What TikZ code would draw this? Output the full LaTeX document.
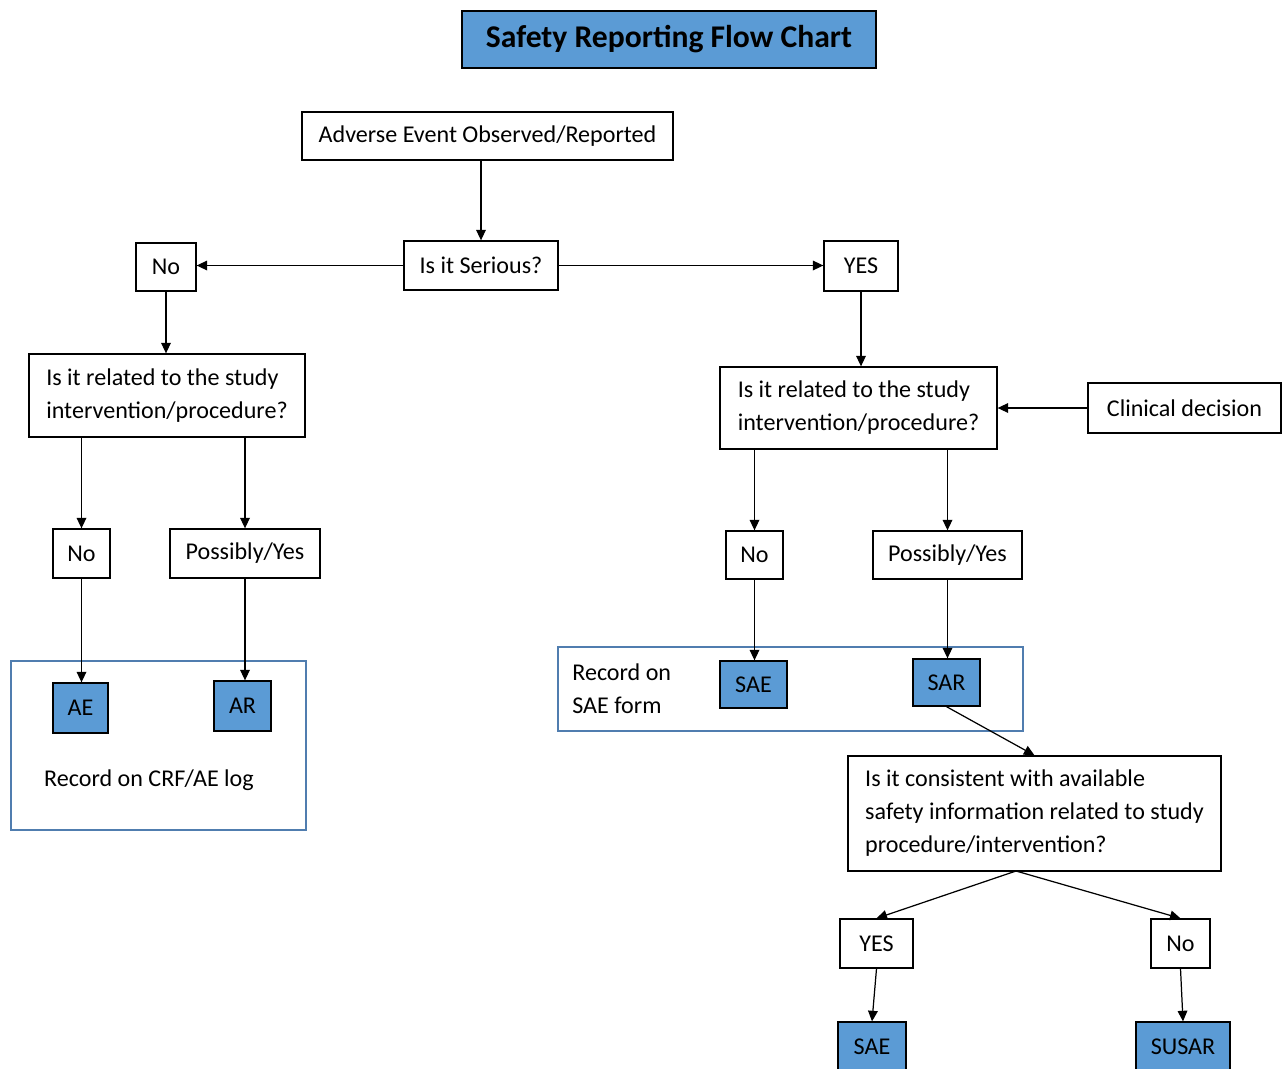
\documentclass[tikz,border=0pt]{standalone}
\usepackage{fontspec}
\setmainfont{Carlito}
\usetikzlibrary{arrows.meta}
\definecolor{boxblue}{RGB}{91,155,213}
\definecolor{frameblue}{RGB}{80,125,175}

\begin{document}
\begin{tikzpicture}[x=0.02cm, y=-0.02cm,
  box/.style={draw, line width=0.75pt, inner sep=0pt, align=left,
    font=\fontsize{13.7}{18.8}\selectfont},
  bluebox/.style={box, fill=boxblue},
  flow/.style={line width=0.7pt, -{Triangle[length=6pt,width=5.5pt]}},
  frame/.style={draw=frameblue, line width=0.8pt}]
\useasboundingbox (0,0) rectangle (1287,1068);

% title
\node[bluebox, minimum width=8.28cm, minimum height=1.14cm,
  font=\fontsize{18}{20}\selectfont\bfseries] (title) at (669,39.5) {Safety Reporting Flow Chart};

% top of the chart
\node[box, minimum width=7.42cm, minimum height=0.96cm] (adverse) at (487.5,136) {Adverse Event Observed/Reported};
\node[box, minimum width=3.08cm, minimum height=0.98cm] (serious) at (481,265.5) {Is it Serious?};
\node[box, minimum width=1.2cm, minimum height=0.96cm] (noL) at (166,267) {No};
\node[box, minimum width=1.48cm, minimum height=1cm] (yesR) at (861,266) {YES};

% relatedness
\node[box, minimum width=5.52cm, minimum height=1.66cm] (relL) at (167,395.5) {Is it related to the study\\intervention/procedure?};
\node[box, minimum width=5.54cm, minimum height=1.64cm] (relR) at (858.5,408) {Is it related to the study\\intervention/procedure?};
\node[box, minimum width=3.86cm, minimum height=1cm] (clinical) at (1184.5,408) {Clinical decision};

\node[box, minimum width=1.14cm, minimum height=0.98cm] (noL2) at (81.5,553.5) {No};
\node[box, minimum width=3cm, minimum height=0.98cm] (possL) at (245,553.5) {Possibly/Yes};
\node[box, minimum width=1.14cm, minimum height=0.96cm] (noR2) at (754.5,555) {No};
\node[box, minimum width=2.98cm, minimum height=0.96cm] (possR) at (947.5,555) {Possibly/Yes};

% recording frames
\draw[frame] (11,661) rectangle (306,830);
\draw[frame] (558,647) rectangle (1023,731);

\node[bluebox, minimum width=1.1cm, minimum height=1cm] (AE) at (80.5,708) {AE};
\node[bluebox, minimum width=1.14cm, minimum height=1cm] (AR) at (242.5,706) {AR};
\node[font=\fontsize{13.7}{18.8}\selectfont, inner sep=0pt] (crflog) at (149,780) {Record on CRF/AE log};

\node[font=\fontsize{13.7}{18.8}\selectfont, inner sep=0pt, anchor=west, align=left] (saeform) at (572,689) {Record on\\SAE form};
\node[bluebox, minimum width=1.34cm, minimum height=0.94cm] (SAE) at (753.5,684.5) {SAE};
\node[bluebox, minimum width=1.34cm, minimum height=0.94cm] (SAR) at (946.5,682.5) {SAR};

% expectedness
\node[box, minimum width=7.46cm, minimum height=2.3cm] (consistent) at (1034.5,813.5) {Is it consistent with available\\safety information related to study\\procedure/intervention?};
\coordinate (split) at (1016,871);
\node[box, minimum width=1.46cm, minimum height=0.98cm] (yesB) at (876.5,943.5) {YES};
\node[box, minimum width=1.18cm, minimum height=0.98cm] (noB) at (1180.5,943.5) {No};
\node[bluebox, minimum width=1.36cm, minimum height=1cm] (SAEb) at (872,1047) {SAE};
\node[bluebox, minimum width=1.88cm, minimum height=1cm] (SUSAR) at (1183,1047) {SUSAR};

% connectors
\draw[flow] (adverse.south -| serious.north) -- (serious.north);
\draw[flow] (serious.west) -- (serious.west -| noL.east);
\draw[flow] (serious.east) -- (serious.east -| yesR.west);
\draw[flow] (noL.south) -- (noL.south |- relL.north);
\draw[flow] (yesR.south) -- (yesR.south |- relR.north);
\draw[flow] (clinical.west) -- (relR.east);
\draw[flow] (relL.south -| noL2.north) -- (noL2.north);
\draw[flow] (relL.south -| possL.north) -- (possL.north);
\draw[flow] (relR.south -| noR2.north) -- (noR2.north);
\draw[flow] (relR.south -| possR.north) -- (possR.north);
\draw[flow] (noL2.south) -- (noL2.south |- AE.north);
\draw[flow] (possL.south) -- (possL.south |- AR.north);
\draw[flow] (noR2.south) -- (noR2.south |- SAE.north);
\draw[flow] (possR.south) -- (possR.south |- SAR.north);
\draw[flow] (SAR.south) -- (consistent.north);
\draw[flow] (split) -- (yesB.north);
\draw[flow] (split) -- (noB.north);
\draw[flow] (yesB.south) -- (SAEb.north);
\draw[flow] (noB.south) -- (SUSAR.north);
\end{tikzpicture}
\end{document}
